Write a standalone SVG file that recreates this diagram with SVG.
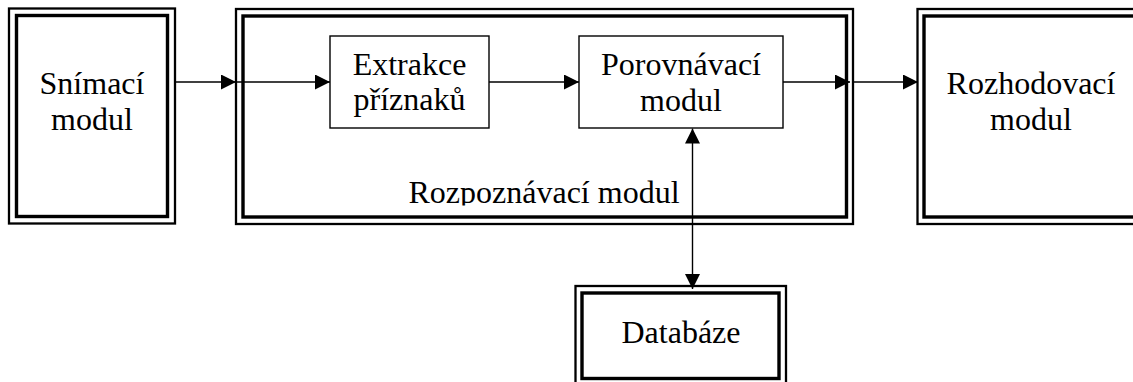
<svg xmlns="http://www.w3.org/2000/svg" width="1133" height="382" viewBox="0 0 1133 382">
<style>
.outer{fill:none;stroke:#000;stroke-width:2.3}
.inner{fill:none;stroke:#000;stroke-width:3.4}
.box{fill:#fff;stroke:#000;stroke-width:1.4}
.lbl{font-family:"Liberation Serif","Times New Roman",serif;font-size:32px;fill:#000;text-anchor:middle}
.conn{fill:none;stroke:#000;stroke-width:1.4}
</style>
<defs>
<marker id="arr" markerUnits="userSpaceOnUse" markerWidth="15" markerHeight="15" refX="15" refY="7.5" orient="auto-start-reverse">
<path d="M0,0 L15,7.5 L0,15 z" fill="#000"/>
</marker>
<clipPath id="clipRoz"><rect x="240" y="150" width="600" height="55.5"/></clipPath>
</defs>
<rect width="1133" height="382" fill="#fff"/>
<g id="snimaci">
<rect class="outer" x="9" y="8.5" width="166" height="215"/>
<rect class="inner" x="16.5" y="15.5" width="151" height="201"/>
<text class="lbl" x="92" y="94">Snímací</text>
<text class="lbl" x="92" y="130">modul</text>
</g>
<g id="rozpoznavaci">
<rect class="outer" x="236" y="9" width="617" height="215"/>
<rect class="inner" x="243" y="16" width="603.5" height="201"/>
<text class="lbl" x="544" y="203" clip-path="url(#clipRoz)">Rozpoznávací modul</text>
</g>
<g id="extrakce">
<rect class="box" x="330" y="36" width="159" height="92"/>
<text class="lbl" x="409.5" y="75">Extrakce</text>
<text class="lbl" x="409.5" y="110">příznaků</text>
</g>
<g id="porovnavaci">
<rect class="box" x="579" y="36" width="204" height="92"/>
<text class="lbl" x="681" y="75">Porovnávací</text>
<text class="lbl" x="681" y="111">modul</text>
</g>
<g id="rozhodovaci">
<rect class="outer" x="917.5" y="9" width="240" height="215"/>
<rect class="inner" x="924" y="16" width="226" height="201"/>
<text class="lbl" x="1031" y="94">Rozhodovací</text>
<text class="lbl" x="1031" y="130">modul</text>
</g>
<g id="databaze">
<rect class="outer" x="575.5" y="286" width="210.5" height="100"/>
<rect class="inner" x="582" y="293" width="197" height="85.5"/>
<text class="lbl" x="681" y="343">Databáze</text>
</g>
<g id="connectors">
<path class="conn" d="M176,82 H236" marker-end="url(#arr)"/>
<path class="conn" d="M237,82 H330" marker-end="url(#arr)"/>
<path class="conn" d="M489,82 H579" marker-end="url(#arr)"/>
<path class="conn" d="M783,82 H850" marker-end="url(#arr)"/>
<path class="conn" d="M853,82 H918" marker-end="url(#arr)"/>
<path class="conn" d="M692.5,128.5 V289" marker-start="url(#arr)" marker-end="url(#arr)"/>
</g>
</svg>
